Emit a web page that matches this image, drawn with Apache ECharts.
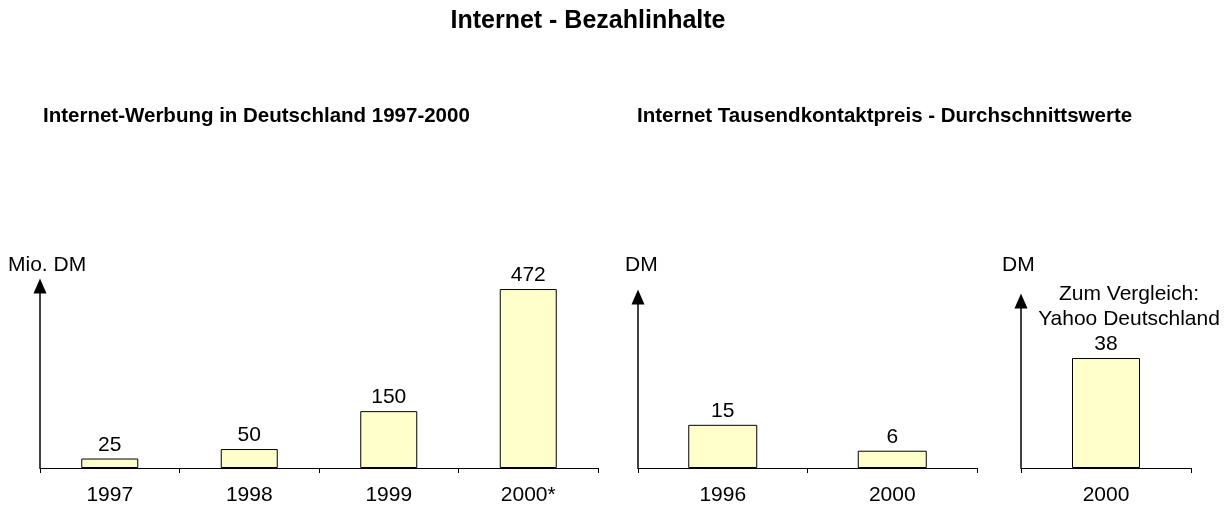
<!DOCTYPE html>
<html>
<head>
<meta charset="utf-8">
<script src="https://cdn.jsdelivr.net/npm/echarts@6/dist/echarts.min.js"></script>
<style>
  html, body { margin: 0; padding: 0; background: #fff; }
  #chart { width: 1231px; height: 508px; }
</style>
</head>
<body>
<div id="chart"></div>
<script>
// Internet-Werbung in Deutschland (Mio. DM)
var werbungJahre = ['1997', '1998', '1999', '2000*'];
var werbungWerte = [25, 50, 150, 472];
// Tausendkontaktpreis Durchschnitt (DM)
var tkpJahre = ['1996', '2000'];
var tkpWerte = [15, 6];
// Zum Vergleich: Yahoo Deutschland (DM)
var yahooJahre = ['2000'];
var yahooWerte = [38];

var FONT = '"Liberation Sans", Arial, sans-serif';
var barFill = '#FFFFCC';

var myChart = echarts.init(document.getElementById('chart'), null, { renderer: 'canvas' });

function xAchse(idx, daten) {
    return {
        type: 'category',
        gridIndex: idx,
        data: daten,
        axisLine: { show: true, lineStyle: { color: '#000', width: 1.2 } },
        axisTick: { show: true, inside: false, length: 5, interval: 0, lineStyle: { color: '#000' } },
        axisLabel: { color: '#000', fontFamily: FONT, fontSize: 21, margin: 17 },
        splitLine: { show: false }
    };
}

function yAchse(idx, max) {
    return {
        type: 'value',
        gridIndex: idx,
        min: 0,
        max: max,
        axisLine: {
            show: true,
            symbol: ['none', 'triangle'],
            symbolSize: [13, 15],
            lineStyle: { color: '#000', width: 1.5 }
        },
        axisTick: { show: false },
        axisLabel: { show: false },
        splitLine: { show: false }
    };
}

function balken(idx, daten, breite) {
    return {
        type: 'bar',
        xAxisIndex: idx,
        yAxisIndex: idx,
        data: daten,
        barWidth: breite,
        itemStyle: { color: barFill, borderColor: '#000', borderWidth: 1 },
        label: {
            show: true,
            position: 'top',
            distance: 3,
            color: '#000',
            fontFamily: FONT,
            fontSize: 21
        },
        silent: true
    };
}

function text(t, x, y, size, bold, align) {
    return {
        text: t,
        left: x, top: y, padding: 0,
        textAlign: align || 'left',
        textStyle: {
            fontFamily: FONT, fontSize: size, lineHeight: 25,
            fontWeight: bold ? 'bold' : 'normal', color: '#000'
        }
    };
}

var option = {
    backgroundColor: '#fff',
    animation: false,
    title: [
        text('Internet - Bezahlinhalte', 588, 9, 25, true, 'center'),
        text('Internet-Werbung in Deutschland 1997-2000', 43, 104, 20.5, true),
        text('Internet Tausendkontaktpreis - Durchschnittswerte', 637, 104, 20.5, true),
        text('Mio. DM', 8, 253, 21, false),
        text('DM', 625, 253, 21, false),
        text('DM', 1002, 253, 21, false),
        text('Zum Vergleich:\nYahoo Deutschland', 1129, 282, 21, false, 'center')
    ],
    grid: [
        { left: 40, top: 286, width: 558, bottom: 40 },
        { left: 638, top: 297, width: 339, bottom: 40 },
        { left: 1021, top: 301, width: 170, bottom: 40 }
    ],
    xAxis: [
        xAchse(0, werbungJahre),
        xAchse(1, tkpJahre),
        xAchse(2, yahooJahre)
    ],
    yAxis: [
        yAchse(0, 480),
        yAchse(1, 59.4),
        yAchse(2, 57.7)
    ],
    series: [
        balken(0, werbungWerte, 57),
        balken(1, tkpWerte, 69),
        balken(2, yahooWerte, 68)
    ]
};

myChart.setOption(option);
</script>
</body>
</html>
